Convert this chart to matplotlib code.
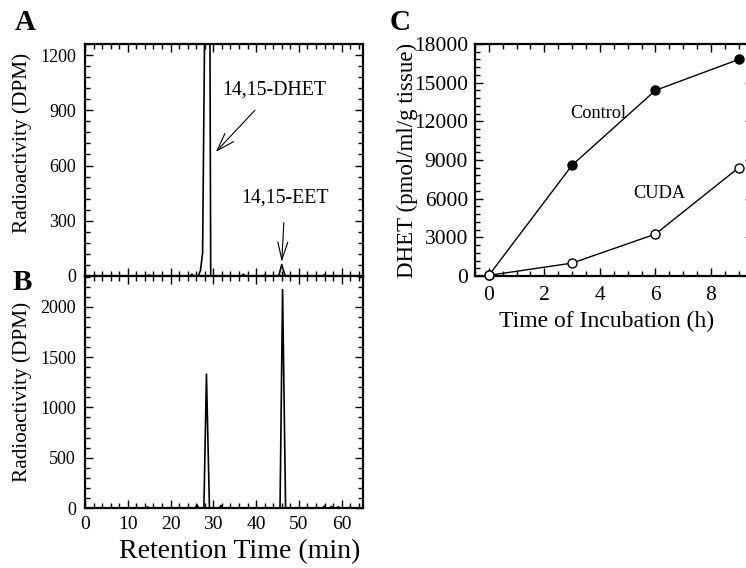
import matplotlib
matplotlib.use("Agg")
import matplotlib.pyplot as plt
from matplotlib.ticker import MultipleLocator

plt.rcParams['font.family'] = ['Liberation Serif', 'DejaVu Serif']

# ---- Panel A chromatogram (retention time, DPM) ----
a_time = [0, 14.5, 15, 15.5, 24.6, 25.0, 25.4, 26.5, 27.0, 27.5, 28.0, 29.2, 29.4,
          36.6, 37.0, 37.4, 41.7, 42.0, 42.3, 45.3, 46.0, 46.8, 55.5, 56.0, 56.5, 65]
a_dpm = [0, 0, 5, 0, 0, 10, 0, 0, 30, 125, 1400, 1400, 0,
         0, 10, 0, 0, 5, 0, 0, 62, 0, 0, 5, 0, 0]

# ---- Panel B chromatogram ----
b_time = [0, 14.2, 14.6, 15.0, 25.8, 26.2, 26.6, 27.8, 28.4, 29.1, 31.4, 31.8, 32.2,
          45.6, 46.2, 46.9, 55.6, 56.0, 56.4, 57.2, 57.6, 58.0, 58.8, 59.2, 59.6,
          61.6, 62.0, 62.4, 65]
b_dpm = [0, 0, 12, 0, 0, 30, 0, 0, 1330, 0, 0, 25, 0,
         0, 2170, 0, 0, 20, 0, 0, 15, 0, 0, 12, 0,
         0, 10, 0, 0]

# ---- Panel C time course ----
hours = [0, 3, 6, 9]
control = [50, 8600, 14400, 16800]
cuda = [50, 1000, 3250, 8400]

fig = plt.figure(figsize=(7.46, 5.68), dpi=100)


def style(ax, xsize, ysize, xpad, ypad):
    for s in ax.spines.values():
        s.set_linewidth(1.6)
    ax.tick_params(which='both', direction='in', top=True, right=True, width=1.0)
    ax.tick_params(which='major', length=6)
    ax.tick_params(which='minor', length=3.5)
    ax.tick_params(axis='x', labelsize=xsize, pad=xpad)
    ax.tick_params(axis='y', labelsize=ysize, pad=ypad)


axA = fig.add_axes([0.1139, 0.5141, 0.3727, 0.4085])
axB = fig.add_axes([0.1139, 0.1056, 0.3727, 0.4085])
axC = fig.add_axes([0.6367, 0.5141, 0.3721, 0.4085])

# Panel A
axA.plot(a_time, a_dpm, color='black', lw=1.2)
axA.set_xlim(0, 65)
axA.set_ylim(0, 1260)
axA.yaxis.set_major_locator(MultipleLocator(300))
axA.yaxis.set_minor_locator(MultipleLocator(60))
axA.xaxis.set_major_locator(MultipleLocator(10))
axA.xaxis.set_minor_locator(MultipleLocator(2))
style(axA, 14, 13, 5, 6.5)
axA.tick_params(axis='x', labelbottom=False)
axA.set_ylabel('Radioactivity (DPM)', fontsize=15.3)
axA.yaxis.set_label_coords(-0.19, 0.573)
axA.annotate('14,15-DHET', xy=(30.6, 674), xytext=(44.2, 1011),
             ha='center', va='center', fontsize=14.3,
             arrowprops=dict(arrowstyle='->,head_length=0.9,head_width=0.3',
                             lw=0.8, color='black', shrinkA=8, shrinkB=0))
axA.annotate('14,15-EET', xy=(46.0, 76), xytext=(46.8, 424),
             ha='center', va='center', fontsize=14.3,
             arrowprops=dict(arrowstyle='->,head_length=0.9,head_width=0.25',
                             lw=0.8, color='black', shrinkA=9, shrinkB=0))

# Panel B
axB.plot(b_time, b_dpm, color='black', lw=1.2)
axB.set_xlim(0, 65)
axB.set_ylim(0, 2306)
axB.yaxis.set_major_locator(MultipleLocator(500))
axB.yaxis.set_minor_locator(MultipleLocator(100))
axB.xaxis.set_major_locator(MultipleLocator(10))
axB.xaxis.set_minor_locator(MultipleLocator(2))
style(axB, 14, 13, 6, 6.5)
axB.set_ylabel('Radioactivity (DPM)', fontsize=15.3)
axB.yaxis.set_label_coords(-0.19, 0.5)
axB.set_xlabel('Retention Time (min)', fontsize=20)
axB.xaxis.set_label_coords(0.557, -0.135)

# Panel C
axC.plot(hours, control, color='black', lw=1.0, marker='o', ms=6.5,
         mfc='black', mec='black', clip_on=False, zorder=3)
axC.plot(hours, cuda, color='black', lw=1.0, marker='o', ms=6.5,
         mfc='white', mec='black', mew=1.0, clip_on=False, zorder=3)
axC.set_xlim(-0.5, 9.5)
axC.set_ylim(0, 18000)
axC.xaxis.set_major_locator(MultipleLocator(2))
axC.xaxis.set_minor_locator(MultipleLocator(0.5))
axC.yaxis.set_major_locator(MultipleLocator(3000))
axC.yaxis.set_minor_locator(MultipleLocator(600))
style(axC, 15.5, 15.5, 7, 5)
axC.set_ylabel('DHET (pmol/ml/g tissue)', fontsize=16.5)
axC.yaxis.set_label_coords(-0.205, 0.5)
axC.set_xlabel('Time of Incubation (h)', fontsize=17)
axC.xaxis.set_label_coords(0.4755, -0.15)
axC.text(3.93, 12623, 'Control', ha='center', va='center', fontsize=13.2)
axC.text(6.13, 6390, 'CUDA', ha='center', va='center', fontsize=13.2)

# Panel letters
fig.text(25 / 746, 1 - 23 / 568, 'A', fontsize=21, fontweight='bold', ha='center', va='center')
fig.text(22 / 746, 1 - 283 / 568, 'B', fontsize=21, fontweight='bold', ha='center', va='center')
fig.text(400 / 746, 1 - 23 / 568, 'C', fontsize=21, fontweight='bold', ha='center', va='center')

fig.savefig('out.png', dpi=100)
